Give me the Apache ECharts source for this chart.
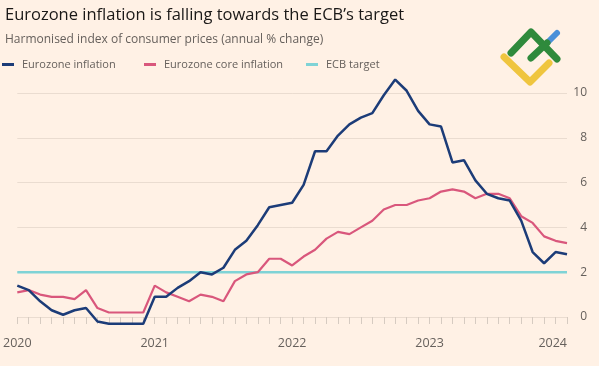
<!DOCTYPE html>
<html>
<head>
<meta charset="utf-8">
<script src="https://cdn.jsdelivr.net/npm/echarts@6/dist/echarts.min.js"></script>
<style>
html,body{margin:0;padding:0;background:#fff1e5;}
#c{width:599px;height:366px;}
</style>
</head>
<body>
<div id="c"></div>
<script>
// Monthly, Jan 2020 .. Jan 2024
const months = [];
for (let y = 2020; y <= 2024; y++) {
  for (let m = 1; m <= 12; m++) {
    if (y === 2024 && m > 1) break;
    months.push(y + '-' + (m < 10 ? '0' + m : m));
  }
}
const yearLabels = ['2020', '2021', '2022', '2023', '2024'];
const headline = [
  1.4, 1.2, 0.7, 0.3, 0.1, 0.3, 0.4, -0.2, -0.3, -0.3, -0.3, -0.3,
  0.9, 0.9, 1.3, 1.6, 2.0, 1.9, 2.2, 3.0, 3.4, 4.1, 4.9, 5.0,
  5.1, 5.9, 7.4, 7.4, 8.1, 8.6, 8.9, 9.1, 9.9, 10.6, 10.1, 9.2,
  8.6, 8.5, 6.9, 7.0, 6.1, 5.5, 5.3, 5.2, 4.3, 2.9, 2.4, 2.9,
  2.8
];
const core = [
  1.1, 1.2, 1.0, 0.9, 0.9, 0.8, 1.2, 0.4, 0.2, 0.2, 0.2, 0.2,
  1.4, 1.1, 0.9, 0.7, 1.0, 0.9, 0.7, 1.6, 1.9, 2.0, 2.6, 2.6,
  2.3, 2.7, 3.0, 3.5, 3.8, 3.7, 4.0, 4.3, 4.8, 5.0, 5.0, 5.2,
  5.3, 5.6, 5.7, 5.6, 5.3, 5.5, 5.5, 5.3, 4.5, 4.2, 3.6, 3.4,
  3.3
];
const ecbTarget = months.map(() => 2);
const yTicks = [0, 2, 4, 6, 8, 10];

const grey = '#66605c';
const font = 'Open Sans';
const chart = echarts.init(document.getElementById('c'));
chart.setOption({
  backgroundColor: '#fff1e5',
  animation: false,
  textStyle: { fontFamily: font },
  title: {
    text: 'Eurozone inflation is falling towards the ECB\u2019s target',
    subtext: 'Harmonised index of consumer prices (annual % change)',
    left: 0, top: 2, itemGap: 10,
    textStyle: { fontFamily: font, fontSize: 16.5, fontWeight: 'normal', color: '#1a1817' },
    subtextStyle: { fontFamily: font, fontSize: 12, color: grey }
  },
  legend: [
    { data: ['Eurozone inflation'], left: 2, top: 59 },
    { data: ['Eurozone core inflation'], left: 144, top: 59 },
    { data: ['ECB target'], left: 306, top: 59 }
  ].map(l => Object.assign(l, {
    icon: 'rect', itemWidth: 12, itemHeight: 3, padding: 0,
    textStyle: { color: grey, fontSize: 11, fontFamily: font, padding: [0, 0, 0, 3] }
  })),
  grid: { left: 17, right: 32, top: 93, bottom: 49 },
  xAxis: {
    type: 'category',
    data: months,
    boundaryGap: false,
    offset: 6,
    axisLine: { show: false },
    axisTick: { show: true, interval: 0, length: 7, lineStyle: { color: '#d6cbc1' } },
    axisLabel: {
      interval: 0, margin: 14, fontSize: 12.5, color: grey, fontFamily: font,
      alignMaxLabel: 'right',
      formatter: v => (v.endsWith('-01') ? yearLabels[yearLabels.indexOf(v.slice(0, 4))] : '')
    },
    splitLine: { show: false }
  },
  yAxis: {
    type: 'value',
    position: 'right',
    min: 0, max: 10, interval: 2,
    axisLine: { show: false },
    axisTick: { show: false },
    axisLabel: {
      align: 'right', margin: 20, fontSize: 12, color: grey, fontFamily: font,
      formatter: v => (yTicks.indexOf(v) >= 0 ? String(v) : '')
    },
    splitLine: { lineStyle: { color: '#eadcd0', width: 1 } }
  },
  series: [
    {
      name: 'ECB target', type: 'line', data: ecbTarget, symbol: 'none',
      lineStyle: { color: '#7fd3d6', width: 2.5 }, itemStyle: { color: '#7fd3d6' }, z: 1
    },
    {
      name: 'Eurozone core inflation', type: 'line', data: core, symbol: 'none', clip: false,
      lineStyle: { color: '#d9577c', width: 2.2 }, itemStyle: { color: '#d9577c' }, z: 2
    },
    {
      name: 'Eurozone inflation', type: 'line', data: headline, symbol: 'none', clip: false,
      lineStyle: { color: '#1c3c78', width: 2.5 }, itemStyle: { color: '#1c3c78' }, z: 3
    }
  ],
  graphic: [
    { type: 'polyline', shape: { points: [[504, 57], [530, 82], [549, 63]] },
      style: { stroke: '#efc53f', lineWidth: 7, fill: null, lineCap: 'round', lineJoin: 'round' } },
    { type: 'polyline', shape: { points: [[548, 42], [557, 33]] },
      style: { stroke: '#4a90d9', lineWidth: 6, fill: null, lineCap: 'round' } },
    { type: 'polyline', shape: { points: [[511, 53], [531, 32], [557, 59]] },
      style: { stroke: '#2f8a3c', lineWidth: 7, fill: null, lineCap: 'round', lineJoin: 'round' } },
    { type: 'polyline', shape: { points: [[531, 58], [547, 43]] },
      style: { stroke: '#2f8a3c', lineWidth: 7, fill: null, lineCap: 'round' } }
  ]
});
</script>
</body>
</html>
